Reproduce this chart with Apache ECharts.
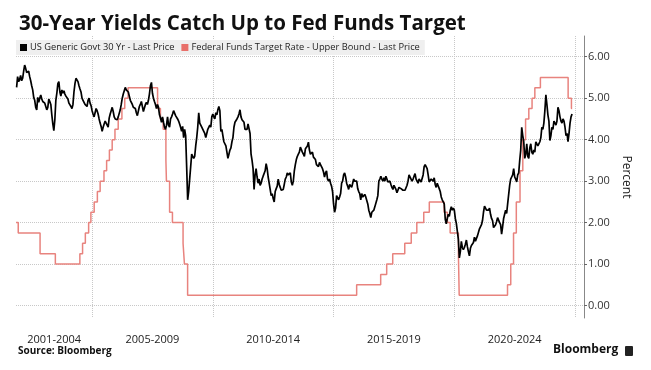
<!DOCTYPE html>
<html><head><meta charset="utf-8">
<script src="https://cdn.jsdelivr.net/npm/echarts@6/dist/echarts.min.js"></script>
<style>html,body{margin:0;padding:0;background:#fff}#c{width:651px;height:370px}</style>
</head><body><div id="c"></div>
<script>
const titleText = '30-Year Yields Catch Up to Fed Funds Target';
const seriesNames = ['US Generic Govt 30 Yr - Last Price', 'Federal Funds Target Rate - Upper Bound - Last Price'];
const periodLabels = ['2001-2004', '2005-2009', '2010-2014', '2015-2019', '2020-2024'];
const periodCenters = [2003.43, 2007.5, 2012.5, 2017.5, 2022.5];
const gridYears = [2005, 2010, 2015, 2020, 2025];
const yTicks = [0, 1, 2, 3, 4, 5, 6];
const xMin = 2001.85, xMax = 2025.37;
const yMin = -0.3, yMax = 6.5;

// 30Y yield, half-monthly readings (1st and 16th of each month)
const yield2001 = [5.26, 5.52, 5.40]; // from mid-Nov
const yield2002 = [5.45,5.55, 5.42,5.48, 5.65,5.80, 5.72,5.62, 5.60,5.65, 5.52,5.42, 5.30,5.20, 5.02,4.95, 4.78,4.72, 5.02,4.90, 5.00,5.08, 4.98,4.92];
const yield2003 = [4.95,4.88, 4.85,4.72, 4.78,4.98, 4.92,4.85, 4.60,4.38, 4.22,4.48, 4.95,5.12, 5.35,5.40, 5.15,5.05, 5.20,5.12, 5.18,5.10, 5.05,5.02];
const yield2004 = [4.98,4.88, 4.92,4.80, 4.75,4.85, 5.15,5.35, 5.48,5.52, 5.40,5.30, 5.22,5.15, 5.00,4.95, 4.92,4.85, 4.88,4.80, 4.95,5.00, 4.88,4.82];
const yield2005 = [4.70,4.62, 4.55,4.65, 4.75,4.70, 4.62,4.50, 4.40,4.32, 4.20,4.30, 4.38,4.45, 4.40,4.35, 4.30,4.52, 4.62,4.70, 4.78,4.68, 4.55,4.50];
const yield2006 = [4.50,4.48, 4.55,4.52, 4.72,4.85, 5.00,5.10, 5.18,5.26, 5.20,5.22, 5.15,5.05, 4.95,4.90, 4.85,4.78, 4.82,4.75, 4.65,4.58, 4.62,4.80];
const yield2007 = [4.85,4.92, 4.80,4.68, 4.72,4.85, 4.90,4.85, 4.95,5.10, 5.30,5.38, 5.12,5.00, 4.92,4.85, 4.75,4.85, 4.78,4.60, 4.52,4.42, 4.55,4.42];
const yield2008 = [4.30,4.25, 4.35,4.55, 4.35,4.30, 4.50,4.55, 4.62,4.70, 4.72,4.58, 4.60,4.50, 4.45,4.38, 4.30,4.20, 4.32,4.05, 4.25,4.10, 3.35,2.55];
const yield2009 = [2.75,3.05, 3.35,3.65, 3.60,3.55, 3.60,3.85, 4.05,4.30, 4.65,4.40, 4.35,4.30, 4.32,4.20, 4.15,4.05, 4.05,4.25, 4.25,4.35, 4.30,4.55];
const yield2010 = [4.62,4.55, 4.50,4.65, 4.60,4.72, 4.80,4.70, 4.20,4.25, 4.10,3.95, 3.98,3.85, 3.70,3.55, 3.65,3.75, 3.80,3.95, 4.05,4.30, 4.42,4.38];
const yield2011 = [4.50,4.55, 4.62,4.72, 4.55,4.48, 4.48,4.42, 4.25,4.22, 4.25,4.38, 4.38,4.15, 3.65,3.50, 3.30,2.80, 3.15,3.30, 3.10,2.95, 3.05,2.90];
const yield2012 = [2.95,3.05, 3.12,3.10, 3.25,3.42, 3.30,3.10, 2.95,2.80, 2.65,2.70, 2.58,2.50, 2.75,2.82, 2.88,3.05, 2.92,2.85, 2.78,2.82, 2.80,2.92];
const yield2013 = [3.05,3.10, 3.20,3.15, 3.18,3.20, 2.98,2.90, 3.00,3.25, 3.40,3.52, 3.60,3.65, 3.70,3.82, 3.78,3.70, 3.65,3.60, 3.78,3.82, 3.85,3.94];
const yield2014 = [3.75,3.65, 3.62,3.70, 3.58,3.55, 3.52,3.40, 3.40,3.35, 3.45,3.40, 3.35,3.30, 3.22,3.10, 3.20,3.25, 3.05,3.00, 3.05,2.95, 2.88,2.75];
const yield2015 = [2.45,2.25, 2.35,2.65, 2.62,2.55, 2.62,2.70, 2.95,3.00, 3.15,3.20, 3.10,2.95, 2.88,2.80, 2.92,2.95, 2.85,2.95, 3.05,3.00, 2.98,3.00];
const yield2016 = [2.82,2.75, 2.70,2.55, 2.70,2.62, 2.65,2.68, 2.62,2.60, 2.45,2.30, 2.22,2.12, 2.25,2.22, 2.30,2.38, 2.40,2.55, 2.65,3.00, 3.05,3.12];
const yield2017 = [3.05,3.00, 3.08,3.00, 3.12,3.05, 2.98,2.95, 3.00,2.92, 2.85,2.80, 2.90,2.88, 2.80,2.72, 2.75,2.85, 2.88,2.82, 2.80,2.78, 2.75,2.78];
const yield2018 = [2.82,2.90, 3.00,3.15, 3.12,3.05, 3.00,3.05, 3.12,3.18, 3.05,3.00, 2.95,3.05, 3.05,2.98, 3.02,3.15, 3.35,3.40, 3.38,3.30, 3.15,2.98];
const yield2019 = [2.95,3.05, 3.02,3.00, 3.08,2.92, 2.85,2.95, 2.95,2.82, 2.75,2.62, 2.55,2.58, 2.45,2.08, 1.97,2.10, 2.20,2.15, 2.30,2.38, 2.30,2.35];
const yield2020 = [2.30,2.10, 1.98,1.95, 1.60,1.15, 1.30,1.55, 1.40,1.35, 1.40,1.48, 1.58,1.42, 1.30,1.20, 1.38,1.45, 1.45,1.52, 1.65,1.55, 1.62,1.68];
const yield2021 = [1.65,1.85, 1.85,1.95, 2.05,2.25, 2.40,2.35, 2.30,2.28, 2.30,2.35, 2.20,2.10, 2.05,1.88, 1.88,1.95, 2.02,2.12, 2.08,2.00, 1.95,1.72];
const yield2022 = [1.90,2.10, 2.20,2.30, 2.22,2.45, 2.45,2.90, 3.05,3.10, 3.15,3.30, 3.10,3.05, 2.98,3.15, 3.20,3.50, 3.75,4.30, 4.10,3.95, 3.55,3.65];
const yield2023 = [3.90,3.60, 3.55,3.80, 3.90,3.70, 3.65,3.75, 3.70,3.95, 3.95,3.85, 3.90,3.95, 4.05,4.30, 4.25,4.40, 4.70,5.08, 4.85,4.60, 4.45,3.98];
const yield2024 = [4.10,4.30, 4.25,4.45, 4.40,4.35, 4.45,4.78, 4.70,4.55, 4.45,4.40, 4.50,4.45, 4.30,4.10, 4.15,3.95, 4.15,4.40, 4.55,4.62];

// Fed funds target (upper bound) change dates and new rates
const fedDates = ['2001-11-08','2001-12-11','2002-11-06','2003-06-25','2004-06-30','2004-08-10','2004-09-21','2004-11-10','2004-12-14',
  '2005-02-02','2005-03-22','2005-05-03','2005-06-30','2005-08-09','2005-09-20','2005-11-01','2005-12-13','2006-01-31','2006-03-28',
  '2006-05-10','2006-06-29','2007-09-18','2007-10-31','2007-12-11','2008-01-22','2008-01-30','2008-03-18','2008-04-30','2008-10-08',
  '2008-10-29','2008-12-16','2015-12-16','2016-12-14','2017-03-15','2017-06-14','2017-12-13','2018-03-21','2018-06-13','2018-09-26',
  '2018-12-19','2019-07-31','2019-09-18','2019-10-30','2020-03-03','2020-03-15','2022-03-16','2022-05-04','2022-06-15','2022-07-27',
  '2022-09-21','2022-11-02','2022-12-14','2023-02-01','2023-03-22','2023-05-03','2023-07-26','2024-09-18','2024-11-07','2024-11-18'];
const fedRates = [2.00,1.75,1.25,1.00,1.25,1.50,1.75,2.00,2.25,
  2.50,2.75,3.00,3.25,3.50,3.75,4.00,4.25,4.50,4.75,
  5.00,5.25,4.75,4.50,4.25,3.50,3.00,2.25,2.00,1.50,
  1.00,0.25,0.50,0.75,1.00,1.25,1.50,1.75,2.00,2.25,
  2.50,2.25,2.00,1.75,1.25,0.25,0.50,1.00,1.75,2.50,
  3.25,4.00,4.50,4.75,5.00,5.25,5.50,5.00,4.75,4.75];

function toYear(s) {
  const [y, m, d] = s.split('-').map(Number);
  const start = Date.UTC(y, 0, 1), end = Date.UTC(y + 1, 0, 1);
  return y + (Date.UTC(y, m - 1, d) - start) / (end - start);
}
const yieldByYear = [
  [2001, 21, yield2001], [2002, 0, yield2002], [2003, 0, yield2003], [2004, 0, yield2004], [2005, 0, yield2005],
  [2006, 0, yield2006], [2007, 0, yield2007], [2008, 0, yield2008], [2009, 0, yield2009], [2010, 0, yield2010],
  [2011, 0, yield2011], [2012, 0, yield2012], [2013, 0, yield2013], [2014, 0, yield2014], [2015, 0, yield2015],
  [2016, 0, yield2016], [2017, 0, yield2017], [2018, 0, yield2018], [2019, 0, yield2019], [2020, 0, yield2020],
  [2021, 0, yield2021], [2022, 0, yield2022], [2023, 0, yield2023], [2024, 0, yield2024]
];
const yieldData = [];
yieldByYear.forEach(([yr, startHalf, vals]) => {
  vals.forEach((v, i) => yieldData.push([yr + (startHalf + i) / 24, v]));
});
const fedData = fedDates.map((d, i) => [toYear(d), fedRates[i]]);

const FONT = 'Open Sans';
const chart = echarts.init(document.getElementById('c'), null, {renderer: 'canvas'});
chart.setOption({
  animation: false,
  backgroundColor: '#ffffff',
  title: {
    text: titleText, left: 14, top: 9,
    textStyle: {fontSize: 20.5, fontWeight: 'bold', color: '#111', fontFamily: FONT}
  },
  legend: {
    left: 16, top: 40, icon: 'rect', itemWidth: 7, itemHeight: 7, itemGap: 7,
    backgroundColor: '#efefef', padding: [3, 5, 3, 4], selectedMode: false,
    textStyle: {fontSize: 9.3, color: '#222', fontFamily: FONT, padding: [0, 0, 0, -2]},
    data: seriesNames
  },
  grid: {left: 16, right: 67, top: 36, bottom: 52, containLabel: false},
  xAxis: {
    type: 'value', min: xMin, max: xMax,
    axisLine: {show: false},
    axisTick: {show: false, customValues: gridYears},
    splitLine: {show: true, lineStyle: {color: '#c8c8c8', type: 'dotted', width: 1}},
    axisLabel: {
      customValues: periodCenters, margin: 16, fontSize: 11, color: '#222', fontFamily: FONT,
      formatter: v => {
        let best = 0;
        periodCenters.forEach((c, i) => { if (Math.abs(c - v) < Math.abs(periodCenters[best] - v)) best = i; });
        return periodLabels[best];
      }
    }
  },
  yAxis: {
    type: 'value', position: 'right', min: yMin, max: yMax,
    name: 'Percent', nameLocation: 'middle', nameRotate: -90, nameGap: 36,
    nameTextStyle: {fontSize: 12, color: '#222', fontFamily: FONT},
    axisLine: {show: true, lineStyle: {color: '#888', width: 1}},
    axisTick: {show: true, length: 3, customValues: yTicks, lineStyle: {color: '#666'}},
    splitLine: {show: true, lineStyle: {color: '#c8c8c8', type: 'dotted', width: 1}},
    axisLabel: {customValues: yTicks, margin: 4, fontSize: 11, color: '#333', fontFamily: FONT,
      formatter: v => v.toFixed(2)}
  },
  series: [
    {
      name: seriesNames[1], type: 'line', step: 'end', data: fedData, symbol: 'none',
      lineStyle: {color: '#e8837e', width: 1.5}, itemStyle: {color: '#e8706a'}, z: 2
    },
    {
      name: seriesNames[0], type: 'line', data: yieldData, symbol: 'none',
      lineStyle: {color: '#000', width: 1.7}, itemStyle: {color: '#000'}, z: 3
    }
  ],
  graphic: [
    {type: 'text', left: 18, top: 346, style: {text: 'Source: Bloomberg', font: 'bold 10px "Open Sans"', fill: '#111'}},
    {type: 'text', left: 553, top: 344, style: {text: 'Bloomberg', font: 'bold 12px "Open Sans"', fill: '#111'}},
    {type: 'rect', left: 625, top: 346, shape: {width: 8, height: 10, r: 1}, style: {fill: '#222'}}
  ]
});
</script></body></html>
